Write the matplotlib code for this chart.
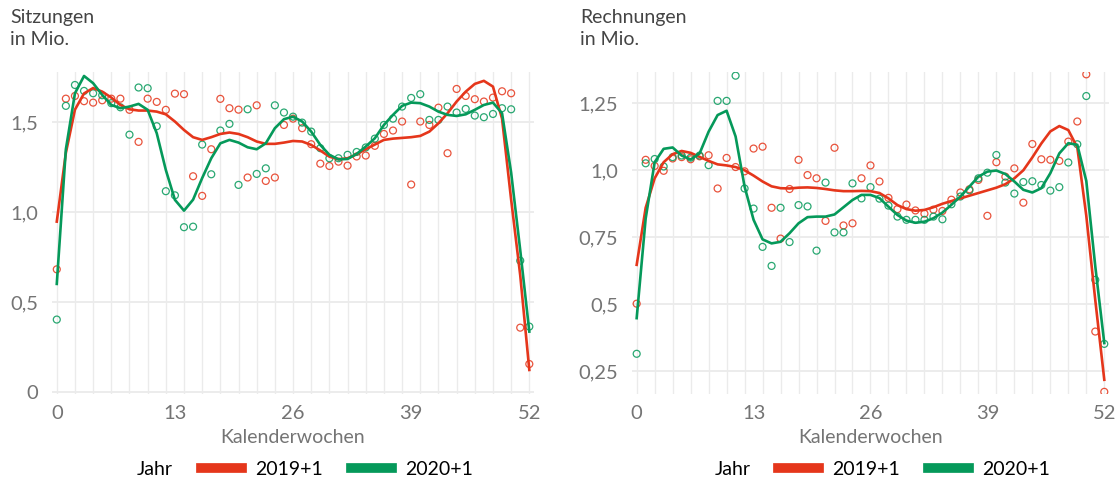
import matplotlib
matplotlib.use("Agg")
import matplotlib.pyplot as plt
from matplotlib.lines import Line2D

plt.rcParams['font.family'] = ['Lato', 'DejaVu Sans']

weeks = list(range(0, 53))
series_names = ['2019+1', '2020+1']

# Sitzungen in Mio. (Punkte)
sitz_2019 = [0.683, 1.631, 1.646, 1.617, 1.609, 1.622, 1.631, 1.631, 1.569, 1.391,
             1.631, 1.613, 1.569, 1.659, 1.656, 1.200, 1.091, 1.350, 1.630, 1.578,
             1.570, 1.193, 1.594, 1.174, 1.193, 1.485, 1.520, 1.467, 1.378, 1.270,
             1.257, 1.281, 1.259, 1.310, 1.315, 1.369, 1.435, 1.454, 1.504, 1.154,
             1.504, 1.485, 1.581, 1.328, 1.685, 1.646, 1.628, 1.615, 1.637, 1.672,
             1.661, 0.359, 0.157]
sitz_2020 = [0.404, 1.591, 1.707, 1.674, 1.661, 1.650, 1.606, 1.583, 1.431, 1.693,
             1.689, 1.478, 1.117, 1.094, 0.917, 0.920, 1.376, 1.211, 1.454, 1.491,
             1.152, 1.572, 1.213, 1.244, 1.594, 1.554, 1.531, 1.498, 1.448, 1.356,
             1.300, 1.300, 1.319, 1.335, 1.360, 1.409, 1.485, 1.520, 1.587, 1.635,
             1.656, 1.513, 1.513, 1.587, 1.554, 1.574, 1.537, 1.528, 1.546, 1.578,
             1.572, 0.731, 0.365]
# Sitzungen, Glaettungskurven
sitz_2019_trend = [0.948, 1.33, 1.57, 1.66, 1.69, 1.67, 1.637, 1.596, 1.572, 1.565,
                   1.565, 1.559, 1.544, 1.504, 1.457, 1.417, 1.402, 1.417, 1.435, 1.443,
                   1.435, 1.417, 1.393, 1.38, 1.38, 1.387, 1.396, 1.393, 1.374, 1.343,
                   1.309, 1.294, 1.30, 1.322, 1.35, 1.376, 1.402, 1.409, 1.413, 1.417,
                   1.424, 1.448, 1.494, 1.55, 1.615, 1.67, 1.713, 1.73, 1.698, 1.52,
                   1.07, 0.65, 0.124]
sitz_2020_trend = [0.602, 1.35, 1.661, 1.757, 1.717, 1.652, 1.596, 1.578, 1.587, 1.602,
                   1.569, 1.439, 1.235, 1.069, 1.009, 1.07, 1.19, 1.30, 1.383, 1.402,
                   1.387, 1.361, 1.35, 1.383, 1.467, 1.517, 1.531, 1.504, 1.448, 1.374,
                   1.319, 1.294, 1.296, 1.324, 1.365, 1.411, 1.485, 1.541, 1.591, 1.609,
                   1.606, 1.587, 1.559, 1.541, 1.535, 1.544, 1.569, 1.596, 1.609, 1.55,
                   1.22, 0.79, 0.337]

# Rechnungen in Mio. (Punkte)
rech_2019 = [0.502, 1.039, 1.016, 0.998, 1.044, 1.049, 1.041, 1.052, 1.056, 0.932,
             1.046, 1.012, 0.996, 1.081, 1.088, 0.860, 0.745, 0.930, 1.039, 0.982,
             0.970, 0.811, 1.084, 0.794, 0.802, 0.970, 1.018, 0.958, 0.897, 0.855,
             0.872, 0.850, 0.838, 0.853, 0.848, 0.890, 0.917, 0.929, 0.964, 0.830,
             1.030, 0.976, 1.007, 0.879, 1.098, 1.041, 1.039, 1.035, 1.107, 1.182,
             1.358, 0.398, 0.173]
rech_2020 = [0.315, 1.026, 1.042, 1.014, 1.049, 1.055, 1.047, 1.055, 1.019, 1.259,
             1.259, 1.353, 0.932, 0.857, 0.714, 0.643, 0.860, 0.732, 0.870, 0.865,
             0.700, 0.954, 0.768, 0.768, 0.951, 0.895, 0.937, 0.894, 0.868, 0.827,
             0.815, 0.815, 0.815, 0.827, 0.817, 0.873, 0.902, 0.925, 0.970, 0.991,
             1.057, 0.954, 0.913, 0.956, 0.959, 0.945, 0.924, 0.937, 1.029, 1.097,
             1.277, 0.591, 0.352]
rech_2019_trend = [0.647, 0.86, 0.97, 1.03, 1.06, 1.072, 1.065, 1.05, 1.035, 1.022,
                   1.018, 1.012, 1.0, 0.98, 0.958, 0.94, 0.933, 0.932, 0.935, 0.936,
                   0.934, 0.93, 0.925, 0.922, 0.922, 0.923, 0.922, 0.915, 0.895, 0.87,
                   0.855, 0.849, 0.852, 0.862, 0.875, 0.885, 0.895, 0.905, 0.915, 0.925,
                   0.935, 0.948, 0.97, 1.0, 1.048, 1.10, 1.145, 1.165, 1.15, 1.085,
                   0.83, 0.515, 0.218]
rech_2020_trend = [0.448, 0.82, 1.03, 1.08, 1.085, 1.055, 1.04, 1.063, 1.144, 1.206,
                   1.222, 1.126, 0.939, 0.815, 0.742, 0.727, 0.733, 0.765, 0.802, 0.825,
                   0.827, 0.827, 0.835, 0.862, 0.889, 0.908, 0.908, 0.896, 0.864, 0.833,
                   0.812, 0.804, 0.808, 0.821, 0.842, 0.871, 0.902, 0.939, 0.976, 0.995,
                   0.999, 0.986, 0.958, 0.927, 0.917, 0.933, 0.989, 1.063, 1.101, 1.095,
                   0.96, 0.641, 0.355]

red = '#e5361b'
green = '#05995a'
grid_col = '#ebebeb'
tick_col = '#747474'


def panel(ax, pts, trends, yticks, ylabels, ylim, title, tx):
    for w in range(0, 53, 2):
        ax.axvline(w, color=grid_col, lw=1, zorder=0)
    for y in yticks:
        ax.axhline(y, color=grid_col, lw=1.3, zorder=0)
    for p, c in zip(pts, [red, green]):
        ax.scatter(weeks, p, s=25, facecolors='none', edgecolors=c,
                   linewidths=0.9, alpha=0.85, zorder=2)
    for t, c in zip(trends, [red, green]):
        ax.plot(weeks, t, color=c, lw=1.9, zorder=3, solid_joinstyle='round')
    ax.set_xlim(-0.52, 52.52)
    ax.set_ylim(*ylim)
    ax.set_xticks([0, 13, 26, 39, 52])
    ax.set_yticks(yticks)
    ax.set_yticklabels(ylabels)
    ax.tick_params(length=0, labelsize=14.5, labelcolor=tick_col)
    ax.tick_params(axis='y', pad=10)
    ax.tick_params(axis='x', pad=8)
    for s in ax.spines.values():
        s.set_visible(False)
    ax.set_xlabel('Kalenderwochen', fontsize=14, color=tick_col, labelpad=5)
    fig.text(tx, 1 - 9 / 479, title, fontsize=14, color='#444444',
             va='top', ha='left', linespacing=1.35)

    handles = [Line2D([], [], color=red, lw=7),
               Line2D([], [], color=green, lw=7)]
    leg = ax.legend(handles, series_names, title='Jahr', ncol=2, frameon=False,
                    loc='center', bbox_to_anchor=(0.525, -0.235), fontsize=14,
                    title_fontsize=14, handlelength=2.1, handletextpad=0.7,
                    columnspacing=1.3, borderaxespad=0)
    # "Jahr" links neben die Eintraege setzen
    box = leg.get_children()[0]
    ttl = box.get_children()[0]
    hp = box.get_children()[1]
    box._children = [hp]
    hp._children.insert(0, ttl)
    hp.sep = 20
    hp.align = 'center'


fig = plt.figure(figsize=(11.17, 4.79), dpi=100)
ax1 = fig.add_axes([0.0466, 0.1775, 0.4315, 0.6729])
ax2 = fig.add_axes([0.5658, 0.1775, 0.4270, 0.6729])

panel(ax1, [sitz_2019, sitz_2020], [sitz_2019_trend, sitz_2020_trend],
      [0, 0.5, 1.0, 1.5], ['0', '0,5', '1,0', '1,5'], (-0.0094, 1.781),
      'Sitzungen\nin Mio.', 10 / 1117)
panel(ax2, [rech_2019, rech_2020], [rech_2019_trend, rech_2020_trend],
      [0.25, 0.5, 0.75, 1.0, 1.25], ['0,25', '0,5', '0,75', '1,0', '1,25'],
      (0.165, 1.368), 'Rechnungen\nin Mio.', 580 / 1117)

fig.savefig('out.png', dpi=100)
